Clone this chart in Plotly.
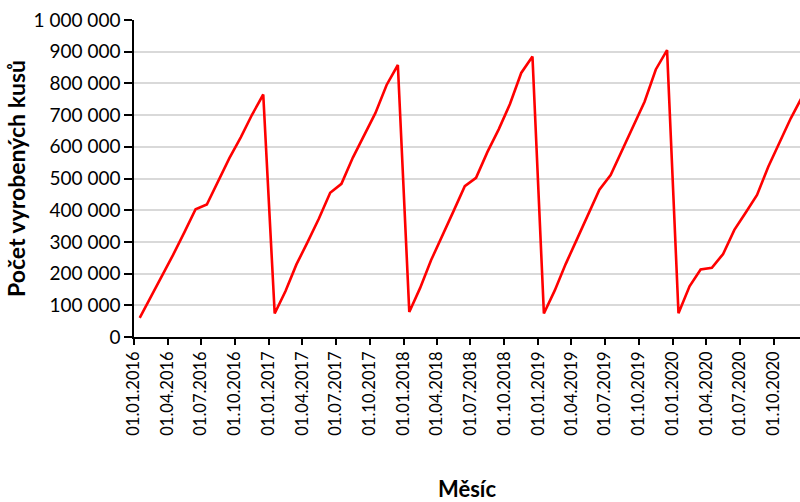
import pandas as pd
import plotly.graph_objects as go

# Monthly cumulative production (resets every January)
months = pd.date_range("2016-01-01", "2020-12-01", freq="MS")

vals_2016 = [60000, 125000, 189000, 259000, 330000, 403000, 418000, 493000, 565000, 630000, 701000, 765000]
vals_2017 = [74000, 145000, 229000, 300000, 374000, 455000, 483000, 566000, 637000, 706000, 795000, 858000]
vals_2018 = [79000, 155000, 242000, 318000, 397000, 476000, 502000, 584000, 655000, 735000, 833000, 885000]
vals_2019 = [74000, 147000, 230000, 308000, 389000, 465000, 511000, 587000, 663000, 742000, 844000, 905000]
vals_2020 = [75000, 160000, 213000, 218000, 262000, 338000, 392000, 448000, 537000, 612000, 690000, 757000]

produced = vals_2016 + vals_2017 + vals_2018 + vals_2019 + vals_2020

y_title = "Počet vyrobených kusů"
x_title = "Měsíc"

FONT = "Lato"

fig = go.Figure()
fig.add_trace(go.Scatter(
    x=months,
    y=produced,
    mode="lines",
    line=dict(color="#ff0000", width=2.6),
    xperiod="M1",
    xperiodalignment="middle",
    showlegend=False,
))

fig.update_layout(
    width=800,
    height=502,
    margin=dict(l=134, r=0, t=20, b=165),
    paper_bgcolor="white",
    plot_bgcolor="white",
    separators=", ",
    font=dict(family=FONT, size=16, color="#000000"),
    xaxis=dict(
        type="date",
        range=["2016-01-01", "2020-12-11"],
        tick0="2016-01-01",
        dtick="M3",
        tickformat="%d.%m.%Y",
        tickangle=-90,
        ticks="outside",
        ticklen=6,
        tickwidth=1.5,
        tickcolor="black",
        showline=True,
        linecolor="black",
        linewidth=1.5,
        showgrid=False,
        zeroline=False,
        tickfont=dict(family=FONT, size=16.5),
        title=dict(text=x_title, font=dict(family=FONT, size=22, weight="bold"), standoff=47),
    ),
    yaxis=dict(
        range=[0, 1000000],
        dtick=100000,
        tickformat=",d",
        ticks="outside",
        ticklen=8,
        tickwidth=1.5,
        tickcolor="black",
        showline=True,
        linecolor="black",
        linewidth=1.5,
        showgrid=True,
        gridcolor="#d9d9d9",
        gridwidth=1.5,
        zeroline=False,
        tickfont=dict(family=FONT, size=19),
        title=dict(text=y_title, font=dict(family=FONT, size=23, weight="bold"), standoff=2),
    ),
)

fig.write_html("out.html")
